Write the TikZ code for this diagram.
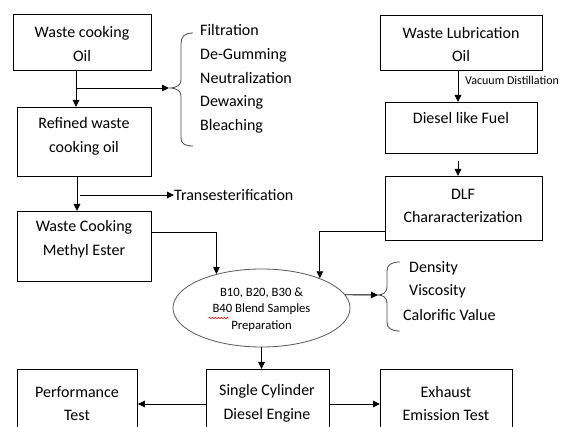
\documentclass[tikz,border=0pt]{standalone}
\usepackage{fontspec}
\setmainfont{Carlito}
\usetikzlibrary{arrows.meta,shapes.geometric,calc,decorations.pathmorphing}
\begin{document}
\begin{tikzpicture}[x=1pt,y=-1pt,
  box/.style={draw=black, line width=0.9pt, inner sep=0pt, anchor=north west},
  txt/.style={font=\fontsize{16}{23.6}\selectfont, align=center, inner sep=0pt},
  small/.style={font=\fontsize{12}{16.3}\selectfont, align=center, inner sep=0pt},
  elltxt/.style={font=\fontsize{12.7}{16.5}\selectfont, align=center, inner sep=0pt},
  ellbox/.style={ellipse, draw=black!65, line width=0.8pt, inner sep=0pt},
  arr/.style={-{Triangle[length=7pt,width=6.5pt]}, line width=0.9pt},
  bracepath/.style={draw=black!70, line width=0.8pt}
]
\useasboundingbox (0,0) rectangle (570,427);
\clip (0,0) rectangle (570,427);
\fill[white] (0,0) rectangle (570,427);

% left column boxes
\node[box, minimum width=138pt, minimum height=56pt] (wco) at (13,14) {};
\node[txt] (wcot) at (82,44) {Waste cooking\\Oil};
\node[box, minimum width=134pt, minimum height=69pt] (rwco) at (17,107) {};
\node[txt] (rwcot) at (84,136.5) {Refined waste\\cooking oil};
\node[box, minimum width=134pt, minimum height=70pt] (wcme) at (17,211) {};
\node[txt] (wcmet) at (84,239) {Waste Cooking\\Methyl Ester};

% right column boxes
\node[box, minimum width=162pt, minimum height=55pt] (wlo) at (380,15) {};
\node[txt] (wlot) at (461,44.5) {Waste Lubrication\\Oil};
\node[box, minimum width=152pt, minimum height=51pt] (dlff) at (385,102) {};
\node[txt] (dlfft) at (461,118) {Diesel like Fuel};
\node[box, minimum width=157pt, minimum height=64pt] (dlfc) at (385,176) {};
\node[txt] (dlfct) at (463,206) {DLF\\Chararacterization};

% bottom row boxes (cut by the page edge)
\node[box, minimum width=120pt, minimum height=80pt] (perf) at (17,369) {};
\node[txt] (perft) at (77,403.5) {Performance\\Test};
\node[box, minimum width=123pt, minimum height=80pt] (single) at (206,369) {};
\node[txt] (singlet) at (267,403.5) {Single Cylinder\\Diesel Engine};
\node[box, minimum width=132pt, minimum height=80pt] (exh) at (380,369) {};
\node[txt] (exht) at (446,403.5) {Exhaust\\Emission Test};

% ellipse
\node[ellbox, minimum width=177pt, minimum height=78pt] (ell) at (261.5,308) {};
\node[elltxt] (ellt) at (261.5,309.5) {B10, B20, B30 \&\\B40 Blend Samples\\Preparation};
\draw[red, line width=0.5pt, decorate, decoration={snake, segment length=3pt, amplitude=0.8pt}]
  ($(ell.center)+(-53,10)$) -- ($(ell.center)+(-33,10)$);

% brace 1 and its list
\coordinate (b1tip) at (169,88);
\draw[bracepath] (193,33) .. controls (184,33) and (181,37) .. (181,44) -- (181,80)
  .. controls (181,85) and (177,88) .. (b1tip)
  .. controls (177,88) and (181,91) .. (181,96) -- (181,138)
  .. controls (181,143) and (184,146) .. (193,146);
\node[txt, align=left, anchor=west] (ops) at (200,79) {Filtration\\De-Gumming\\Neutralization\\Dewaxing\\Bleaching};

% brace 2 and its list
\coordinate (b2tip) at (378,295);
\draw[bracepath] (400,262) .. controls (391,262) and (387,265) .. (387,271) -- (387,287)
  .. controls (387,292) and (383,295) .. (b2tip)
  .. controls (383,295) and (387,298) .. (387,303) -- (387,322)
  .. controls (387,328) and (391,331) .. (400,331);
\node[txt, anchor=west] (den) at (409,268) {Density};
\node[txt, anchor=west] (vis) at (409,291.5) {Viscosity};
\node[txt, anchor=west] (cal) at (403,315) {Calorific Value};

% labels
\node[txt, anchor=west] (trans) at (174,195) {Transesterification};
\node[small, anchor=west] (vac) at (465,80) {Vacuum Distillation};

% connectors, left column
\coordinate (a1) at ($(wco.south west)+(63,0)$);
\draw[arr] (a1) -- (a1 |- rwco.north);
\draw[arr] (a1 |- b1tip) -- (b1tip);
\coordinate (a2) at ($(rwco.south west)+(60,0)$);
\draw[arr] (a2) -- (a2 |- wcme.north);
\draw[arr] ($(a2 |- trans.west)+(3,0)$) -- (trans.west);
\draw[arr] ($(wcme.north east)+(0,21)$) -| (ell.143);

% connectors, right column
\coordinate (w1) at ($(wlo.south west)+(78,0)$);
\draw[arr] (w1) -- (w1 |- dlff.north);
\coordinate (w2) at ($(dlff.south west)+(73,7)$);
\draw[arr] (w2) -- (w2 |- dlfc.north);
\draw[arr] ($(dlfc.south west)+(0,-9)$) -| (ell.27);

% ellipse outputs
\draw[arr] (ell.9) -- (b2tip);
\draw[arr] (ell.south) -- (ell.south |- single.north);
\coordinate (s1) at ($(single.north west)+(0,35)$);
\draw[arr] (s1) -- (s1 -| perf.east);
\coordinate (s2) at ($(single.north east)+(0,35)$);
\draw[arr] (s2) -- (s2 -| exh.west);
\end{tikzpicture}
\end{document}
